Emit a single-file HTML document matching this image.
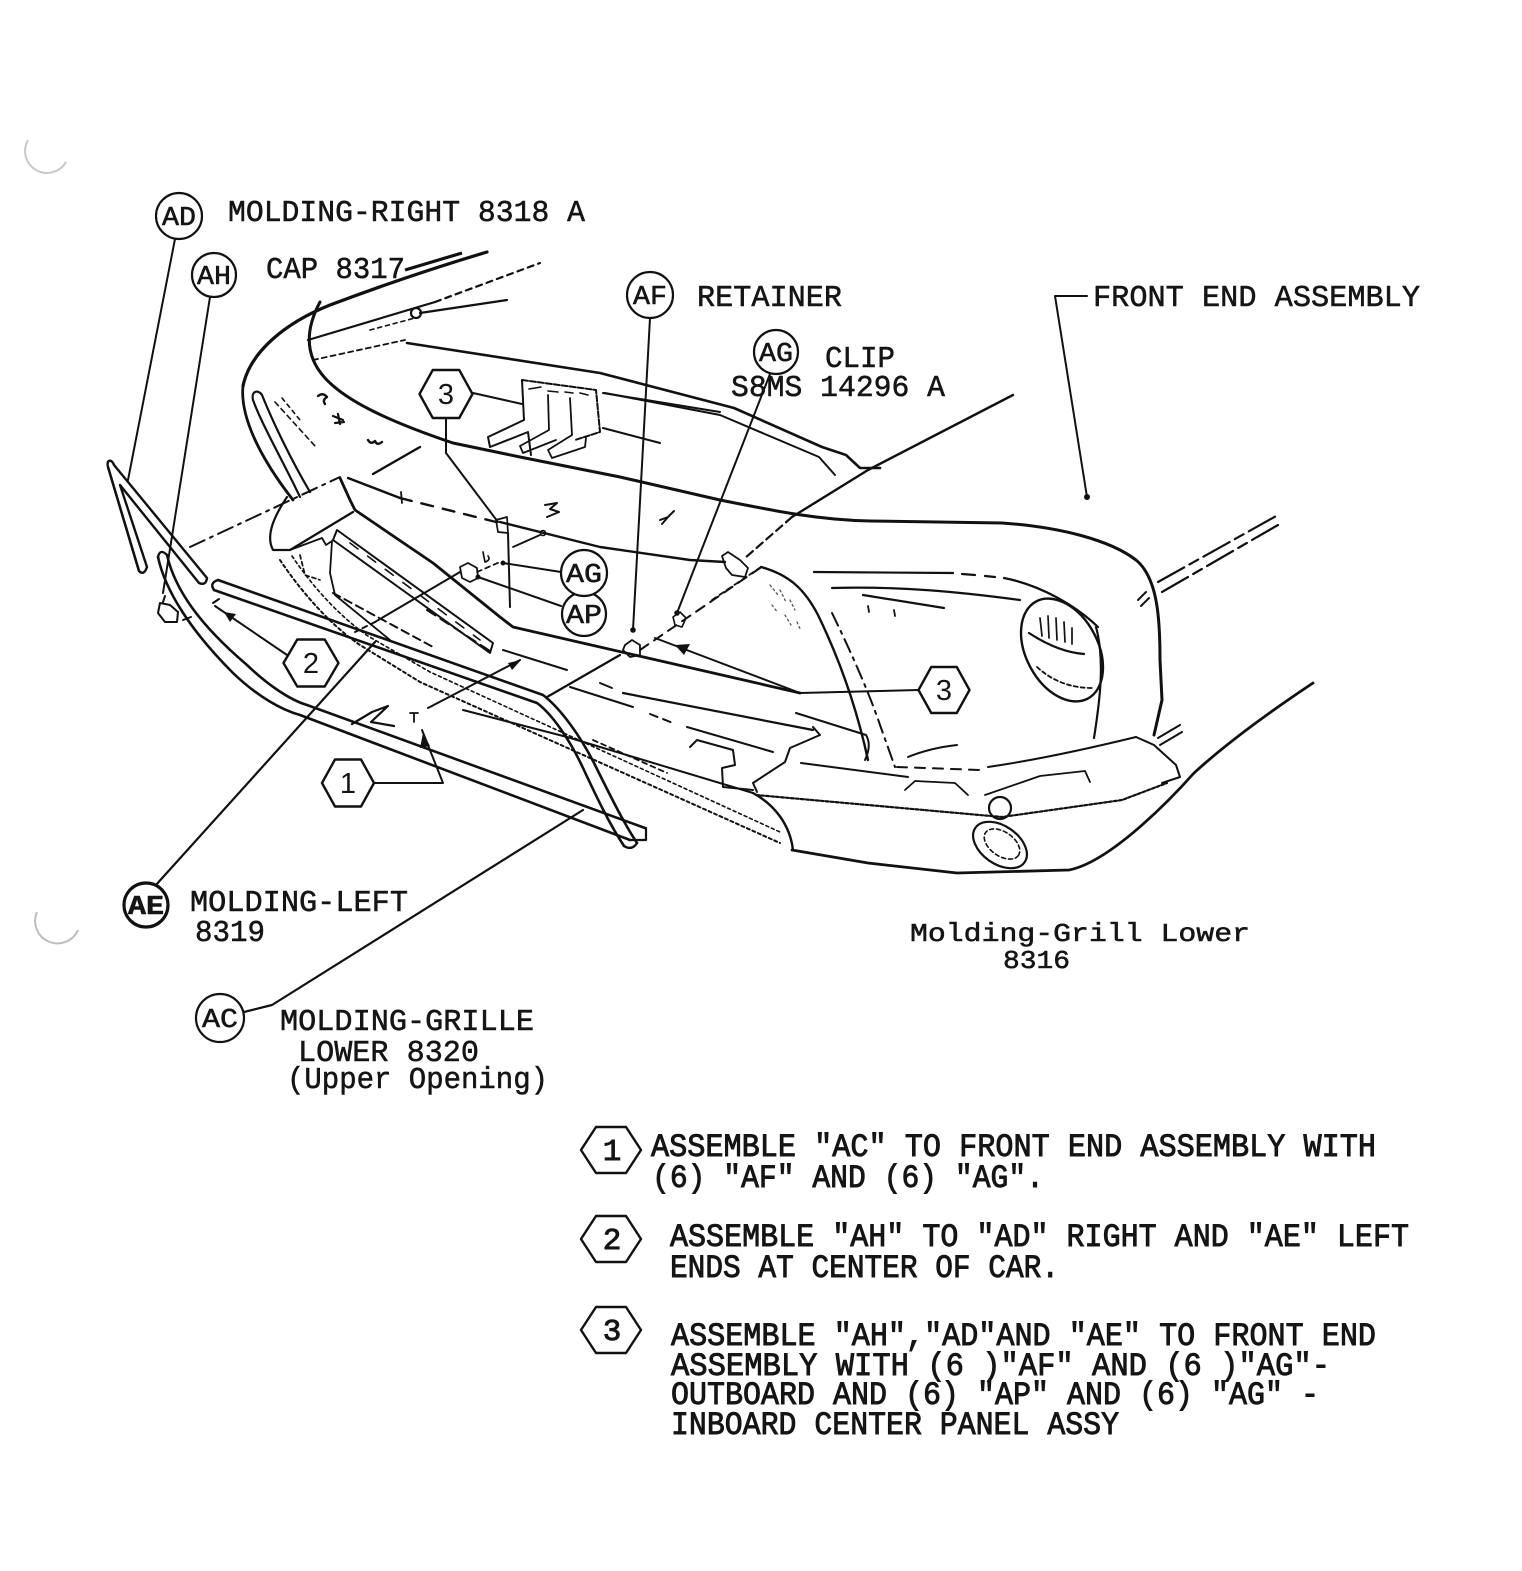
<!DOCTYPE html>
<html><head><meta charset="utf-8"><style>
html,body{margin:0;padding:0;background:#fff;}
svg{display:block;}
.t{font-family:"Liberation Mono","DejaVu Sans Mono",monospace;fill:#151515;stroke:#151515;stroke-width:0.55;}
.b{stroke-width:0.9;}
.s{font-family:"Liberation Sans",sans-serif;fill:#151515;}
</style></head><body>
<svg width="1522" height="1571" viewBox="0 0 1522 1571" xmlns="http://www.w3.org/2000/svg">
<rect width="1522" height="1571" fill="#fff"/>
<!-- binder holes -->
<path d="M28,140 A21,21 0 0 0 66,162" fill="none" stroke="#c8c8c8" stroke-width="2"/>
<path d="M37,912 A22,22 0 0 0 78,930" fill="none" stroke="#bdbdbd" stroke-width="2"/>

<g fill="none" stroke="#111" stroke-width="2.2" stroke-linecap="round" stroke-linejoin="round">
<!-- HOOD -->
<path d="M243,386 C250,352 285,323 330,305 C370,290 420,272 487,252" stroke-width="3.2"/>
<path d="M243,386 C240,415 258,455 293,500" stroke-width="2.8"/>
<path d="M308,340 L435,302"/>
<path d="M435,302 L540,263" stroke-dasharray="6 5"/>
<path d="M420,313 L507,300"/>
<circle cx="416" cy="313" r="5"/>
<path d="M370,330 L415,318" stroke-dasharray="4 4" stroke-width="1.6"/>
<path d="M407,343 L600,373 L734,408 L822,447 L846,455 L860,468 L880,468" stroke-width="2.6"/>
<path d="M313,360 L405,340" stroke-dasharray="5 4" stroke-width="1.8"/>
<path d="M605,393 L720,415 L819,457 L835,475" stroke-width="2"/>
<path d="M603,428 L660,443" stroke-width="2"/>
<path d="M320,302 C305,330 305,356 325,378 C345,400 385,420 453,443 L520,457 L620,477 L720,500 C780,512 820,520 870,521 L1002,523 C1060,527 1110,540 1136,560 C1158,578 1160,620 1160,660 L1162,700 L1154,735" stroke-width="3"/>
<!-- left oval -->
<path d="M300,497 C285,465 262,425 253,400 C251,391 258,389 262,395 C272,420 290,458 310,492" stroke-width="2.2"/>
<path d="M275,402 L315,446" stroke-dasharray="5 4" stroke-width="1.6"/>
<path d="M282,398 L300,420" stroke-dasharray="4 4" stroke-width="1.6"/>
<!-- marks on hood -->
<path d="M318,396 q5,-4 9,1 q-5,3 -2,7" stroke-width="2.4"/>
<path d="M333,416 l10,4 M335,423 l9,-1 M338,414 l2,10" stroke-width="2.2"/>
<path d="M368,440 q3,5 7,1 q2,5 7,1" stroke-width="2.4"/>
<path d="M545,505 l12,-2 l-7,6 l9,3 l-12,5" stroke-width="2"/>
<path d="M660,520 l8,-3 l6,-6 M668,517 l-6,7" stroke-width="2"/>
<path d="M373,474 L420,447" stroke-width="2.4"/>
<!-- hood front lower line -->
<path d="M348,478 L400,498" stroke-width="2.4"/>
<path d="M400,498 L500,523" stroke-dasharray="12 10" stroke-width="2.4"/>
<path d="M401,492 L402,503" stroke-width="1.8"/>
<path d="M500,522 L600,547 L690,560 L725,562" stroke-width="2.4"/>
<path d="M722,556 L728,552 L740,560 L748,568 L745,577 L732,575 L726,568 Z" stroke-width="1.8"/>
<!-- diagonal F -->
<path d="M1013,395 L868,470 L792,517" stroke-width="2.4"/>
<path d="M792,517 L745,558" stroke-dasharray="8 5" stroke-width="2.2"/>
<!-- bracket (retainer) -->
<path d="M522,380 L596,390 L600,432 L575,440" stroke-dasharray="6 2" stroke-width="2"/>
<path d="M522,380 L524,420 L488,437 L490,447 L528,432 L531,455" stroke-width="2"/>
<path d="M548,395 L549,430 L520,446 L523,453 L556,440" stroke-width="1.8"/>
<path d="M570,398 L572,435 L548,450 L552,458 L585,447 L586,438" stroke-width="1.8"/>
<path d="M529,389 l12,-2 M548,391 l10,1 M565,392 l8,1 M580,393 l8,2" stroke-width="1.6"/>
<path d="M603,393 L720,412" stroke-width="2"/>
<!-- hex3 top leader -->
<path d="M473,393 L522,404" stroke-width="2"/>
<path d="M446,418 L446,453 L498,522" stroke-width="2"/>
<path d="M496,520 L507,517 L508,533 L498,532 Z" stroke-width="1.7"/>
<path d="M508,533 L510,607" stroke-width="2"/>
<path d="M513,547 L540,535" stroke-width="1.8"/>
<circle cx="543" cy="533" r="2.5" stroke-width="1.6"/>
<!-- left clip AG/AP -->
<path d="M460,567 L468,563 L477,568 L478,578 L470,582 L462,578 Z" stroke-width="1.8"/>
<path d="M483,552 l2,10 q6,-2 3,-6" stroke-width="1.7"/>
<path d="M460,572 L375,622" stroke-width="2"/>
<path d="M375,622 L355,632" stroke-dasharray="5 4" stroke-width="2"/>
<path d="M477,572 L500,562" stroke-dasharray="5 4" stroke-width="1.7"/>

<!-- LEFT MOLDINGS -->
<path d="M108,467 C106,459 112,459 114,465 L207,578 Q206,586 199,583 L120,485 L147,567 Q144,576 139,571 Z" stroke-width="2.4"/>
<path d="M108,467 L139,571" stroke-width="2.4"/>
<path d="M158,557 C165,590 190,630 233,673 C258,697 282,710 300,715 L630,840" stroke-width="2.6"/>
<path d="M167,555 C175,590 200,625 247,665 C268,685 290,700 307,705 L645,828" stroke-width="2.6"/>
<path d="M158,557 Q160,548 167,555" stroke-width="2.4"/>
<path d="M630,840 L646,840 L646,828" stroke-width="2.2"/>
<path d="M218,580 L543,695 C560,708 580,735 595,765 C610,795 622,820 637,843" stroke-width="2.6"/>
<path d="M214,590 L537,703 C552,714 570,740 583,768 C597,798 610,825 624,846" stroke-width="2.6"/>
<path d="M218,580 Q209,583 214,590 M637,843 Q632,851 624,846" stroke-width="2.4"/>
<path d="M160,603 L158,613 L165,622 L177,622 L178,612 L170,605 Z M163,602 L165,596" stroke-width="2"/>
<path d="M183,620 L191,617" stroke-width="2"/>
<path d="M190,547 L340,477" stroke-dasharray="16 6 3 6" stroke-width="2"/>

<!-- GRILLE -->
<path d="M340,478 L350,500 L355,510 L433,563 L500,617 L513,627 L800,693" stroke-width="2.8"/>
<path d="M287,497 C275,515 265,535 273,550 L290,550 L353,512" stroke-width="2.2"/>
<path d="M290,550 L322,538 L326,545 L332,541 L330,573 L335,595 L390,640" stroke-width="1.8"/>
<path d="M300,555 L305,575 L320,580" stroke-dasharray="4 3" stroke-width="1.7"/>
<path d="M337,530 L493,643 L490,653 L333,540 Z" stroke-width="2"/>
<path d="M350,543 L480,640" stroke-dasharray="10 12" stroke-width="1.6"/>
<path d="M333,593 L433,647" stroke-dasharray="8 5" stroke-width="2"/>
<path d="M280,560 C300,590 330,625 360,645 L420,682 L780,843" stroke-dasharray="3 3" stroke-width="2"/>
<path d="M292,556 C312,586 340,617 368,636 L430,672 L780,832" stroke-dasharray="3 3" stroke-width="1.6"/>
<path d="M463,710 L567,737 L753,793" stroke-width="2"/>
<path d="M427,610 L493,653" stroke-dasharray="10 6" stroke-width="2"/>
<path d="M503,650 L567,670" stroke-width="2"/>
<path d="M570,687 L633,707" stroke-width="2"/>
<path d="M650,714 L673,723" stroke-dasharray="8 6" stroke-width="2"/>
<path d="M600,683 L612,688" stroke-width="2"/>
<path d="M623,693 L813,730" stroke-width="2.2"/>
<path d="M687,727 L773,752" stroke-width="2"/>
<path d="M593,740 L667,773" stroke-dasharray="5 4" stroke-width="1.8"/>
<path d="M690,747 L697,740 L733,750 L735,765 L722,768 L723,787 L753,790" stroke-width="2"/>
<path d="M813,727 L820,735 L790,748 L785,762 L753,783 L757,792" stroke-width="2"/>
<path d="M753,793 C775,805 790,825 793,850" stroke-width="2.4"/>
<path d="M547,697 L620,655" stroke-width="2.2"/>
<path d="M625,645 L632,640 L640,645 L640,655 L630,657 L623,650 Z" stroke-width="1.8"/>
<path d="M673,617 L680,612 L686,618 L682,627 L675,625 Z" stroke-width="1.6"/>
<path d="M640,650 L760,568" stroke-dasharray="10 7" stroke-width="2"/>
<path d="M761,567 C790,575 805,590 818,615 C835,650 855,700 868,760" stroke-width="2.4"/>
<path d="M832,613 C850,650 868,690 880,725 L895,767" stroke-dasharray="14 6 3 6" stroke-width="2"/>
<path d="M761,567 L712,600" stroke-dasharray="5 4" stroke-width="1.8"/>
<path d="M770,585 l8,10 M780,590 l6,12 M790,600 l5,10 M772,605 l6,8 M785,615 l6,10 M797,622 l4,9" stroke="#555" stroke-width="1.3" stroke-dasharray="2 3"/>
<path d="M796,713 L866,735 Q872,745 865,760" stroke-width="2"/>
<path d="M801,763 L908,777" stroke-width="2"/>
<path d="M908,757 Q930,748 957,745" stroke-width="2"/>
<path d="M897,767 L980,770" stroke-dasharray="10 8" stroke-width="2"/>
<!-- bumper -->
<path d="M988,767 Q1050,758 1136,737" stroke-width="2"/>
<path d="M1136,737 L1154,745 L1176,765 L1180,777 L1162,783" stroke-width="2"/>
<path d="M756,795 L1002,817 L1122,800 L1167,783" stroke-dasharray="3 2" stroke-width="2.2"/>
<path d="M905,790 L915,781 L955,783 L968,795" stroke-width="1.8"/>
<path d="M985,795 L1040,776 L1085,771 L1090,782" stroke-width="1.8"/>
<circle cx="1000" cy="808" r="11" stroke-width="2.2"/>
<ellipse cx="1000" cy="845" rx="30" ry="19" transform="rotate(35 1000 845)" stroke-width="2.2"/>
<ellipse cx="1002" cy="844" rx="20" ry="12" transform="rotate(35 1002 844)" stroke-width="1.6" stroke-dasharray="4 3"/>
<!-- body bottom -->
<path d="M792,850 L868,863 L957,873 L1069,870 C1110,862 1170,800 1194,773 C1230,740 1280,705 1313,683" stroke-width="2.8"/>
<!-- fender lines -->
<path d="M814,572 L953,573" stroke-width="2.2"/>
<path d="M962,574 L975,575 M985,576 L995,577" stroke-width="2.2"/>
<path d="M1004,578 C1040,585 1075,605 1098,627" stroke-width="2.2"/>
<path d="M832,588 C900,586 960,592 1020,600" stroke-width="2.2"/>
<path d="M863,595 L944,608" stroke-width="2.2"/>
<path d="M1096,627 C1105,660 1100,700 1094,738" stroke-width="2.2"/>
<path d="M868,606 l1,6 M894,610 l1,6" stroke-width="1.8"/>
<!-- headlamp -->
<ellipse cx="1062" cy="650" rx="36" ry="55" transform="rotate(-28 1062 650)" stroke-width="2.4"/>
<path d="M1029,633 Q1058,652 1084,654" stroke-width="2.2"/>
<path d="M1040,618 l2,18 M1048,616 l1,22 M1056,618 l1,22 M1064,622 l1,20 M1072,628 l0,16" stroke-width="1.7"/>
<path d="M1037,667 Q1060,688 1092,688" stroke-dasharray="4 3" stroke-width="1.8"/>
<!-- right rear -->
<path d="M1158,582 L1278,515" stroke-dasharray="30 6 10 6" stroke-width="2.2"/>
<path d="M1162,592 L1278,525" stroke-dasharray="30 6 10 6" stroke-width="2.2"/>
<path d="M1138,600 L1146,592 M1141,606 L1149,598" stroke-width="2"/>
<path d="M1158,738 L1180,725 M1160,745 L1182,732" stroke-width="2"/>

<!-- LEADERS -->
<path d="M175,239 L128,480" stroke-width="2"/>
<path d="M210,297 L163,593" stroke-width="2"/>
<path d="M650,318 L633,630" stroke-width="2"/>
<path d="M770,374 L677,613" stroke-width="2"/>
<path d="M561,572 L503,563" stroke-width="2"/>
<path d="M561,606 L478,577" stroke-width="2"/>
<path d="M155,886 L375,642" stroke-width="2.2"/>
<path d="M244,1012 L272,1005 L583,810" stroke-width="2.2"/>
<path d="M1087,296 L1055,296 L1087,497" stroke-width="2"/>
<path d="M919,690 L800,693 L655,638" stroke-width="2"/>
<path d="M287,655 L215,606 M213,603 L219,599" stroke-width="2"/>
<path d="M374,783 L443,783 L422,730" stroke-width="2"/>
<path d="M428,708 L520,660" stroke-width="2"/>
<path d="M352,724 L372,712 L388,706 L371,722 L394,726" stroke-width="2.2"/>
<path d="M410,713 L418,713 M414,713 L414,722" stroke-width="1.8"/>
</g>
<g fill="#111">
<circle cx="633" cy="630" r="2.8"/>
<circle cx="677" cy="613" r="2.8"/>
<circle cx="503" cy="563" r="2.5"/>
<circle cx="478" cy="577" r="2.5"/>
<circle cx="1087" cy="497" r="3"/>
<polygon points="675,645 690,644 684,655"/>
<polygon points="224,612 236,614 230,622"/>
<polygon points="423,733 420,748 430,746"/>
<polygon points="521,660 508,663 512,670"/>
</g>

<!-- HEXAGONS -->
<g fill="#fff" stroke="#111" stroke-width="2.4" stroke-linejoin="round">
<polygon points="419.5,394 432.75,370 459.25,370 472.5,394 459.25,418 432.75,418"/>
<polygon points="283.5,663 297.25,639.5 324.75,639.5 338.5,663 324.75,686.5 297.25,686.5"/>
<polygon points="322,783 335,759.5 361,759.5 374,783 361,806.5 335,806.5"/>
<polygon points="918.5,690 931.25,667 956.75,667 969.5,690 956.75,713 931.25,713"/>
<polygon points="581,1150 596,1127 626,1127 641,1150 626,1173 596,1173"/>
<polygon points="581,1239 596,1216 626,1216 641,1239 626,1262 596,1262"/>
<polygon points="581,1330 596,1307 626,1307 641,1330 626,1353 596,1353"/>
</g>
<g class="s" font-size="29" text-anchor="middle">
<text x="446" y="404">3</text>
<text x="311" y="673">2</text>
<text x="348" y="793">1</text>
<text x="944" y="700">3</text>
</g>
<g class="t b" font-size="31" text-anchor="middle">
<text x="612" y="1160">1</text>
<text x="612" y="1249">2</text>
<text x="612" y="1340">3</text>
</g>

<!-- CIRCLES -->
<g fill="#fff" stroke="#111" stroke-width="2.2">
<circle cx="179" cy="216" r="23"/>
<circle cx="214" cy="275" r="22"/>
<circle cx="650" cy="295" r="23"/>
<circle cx="776" cy="352" r="22"/>
<circle cx="584" cy="614" r="22"/>
<circle cx="584" cy="573" r="23"/>
<circle cx="146" cy="905" r="22" stroke-width="3.2"/>
<circle cx="220" cy="1018" r="24"/>
</g>
<g class="t" font-size="27" text-anchor="middle">
<text x="179" y="225" textLength="34" lengthAdjust="spacingAndGlyphs">AD</text>
<text x="214" y="284" textLength="34" lengthAdjust="spacingAndGlyphs">AH</text>
<text x="650" y="304" textLength="34" lengthAdjust="spacingAndGlyphs">AF</text>
<text x="776" y="361" textLength="34" lengthAdjust="spacingAndGlyphs">AG</text>
<text x="584" y="582" textLength="36" lengthAdjust="spacingAndGlyphs">AG</text>
<text x="584" y="623" textLength="36" lengthAdjust="spacingAndGlyphs">AP</text>
<text x="146" y="914" textLength="36" lengthAdjust="spacingAndGlyphs" font-weight="bold">AE</text>
<text x="220" y="1027" textLength="36" lengthAdjust="spacingAndGlyphs">AC</text>
</g>

<!-- LABELS -->
<g class="t" font-size="31">
<text x="228" y="221" textLength="357" lengthAdjust="spacingAndGlyphs">MOLDING-RIGHT 8318 A</text>
<text x="266" y="278" textLength="139" lengthAdjust="spacingAndGlyphs">CAP 8317</text>
<text x="697" y="306" textLength="145" lengthAdjust="spacingAndGlyphs">RETAINER</text>
<text x="1093" y="306" textLength="327" lengthAdjust="spacingAndGlyphs">FRONT END ASSEMBLY</text>
<text x="825" y="367" textLength="70" lengthAdjust="spacingAndGlyphs">CLIP</text>
<text x="731" y="396" textLength="214" lengthAdjust="spacingAndGlyphs">S8MS 14296 A</text>
<text x="190" y="911" textLength="218" lengthAdjust="spacingAndGlyphs">MOLDING-LEFT</text>
<text x="195" y="941" textLength="70" lengthAdjust="spacingAndGlyphs">8319</text>
<text x="280" y="1030" textLength="254" lengthAdjust="spacingAndGlyphs">MOLDING-GRILLE</text>
<text x="298" y="1061" textLength="181" lengthAdjust="spacingAndGlyphs">LOWER 8320</text>
<text x="287" y="1088" textLength="261" lengthAdjust="spacingAndGlyphs">(Upper Opening)</text>
</g>
<g class="t" font-size="26">
<text x="910" y="941" textLength="340" lengthAdjust="spacingAndGlyphs">Molding-Grill Lower</text>
<text x="1003" y="968" textLength="67" lengthAdjust="spacingAndGlyphs">8316</text>
</g>
<path d="M405,270 L462,253" stroke="#111" stroke-width="3.2" fill="none"/>

<!-- INSTRUCTIONS -->
<g class="t b" font-size="32">
<text x="651" y="1156" textLength="725" lengthAdjust="spacingAndGlyphs">ASSEMBLE "AC" TO FRONT END ASSEMBLY WITH</text>
<text x="652" y="1187" textLength="392" lengthAdjust="spacingAndGlyphs">(6) "AF" AND (6) "AG".</text>
<text x="670" y="1246" textLength="739" lengthAdjust="spacingAndGlyphs">ASSEMBLE "AH" TO "AD" RIGHT AND "AE" LEFT</text>
<text x="670" y="1277" textLength="389" lengthAdjust="spacingAndGlyphs">ENDS AT CENTER OF CAR.</text>
<text x="671" y="1345" textLength="705" lengthAdjust="spacingAndGlyphs">ASSEMBLE "AH","AD"AND "AE" TO FRONT END</text>
<text x="671" y="1375" textLength="659" lengthAdjust="spacingAndGlyphs">ASSEMBLY WITH (6 )"AF" AND (6 )"AG"-</text>
<text x="671" y="1404" textLength="648" lengthAdjust="spacingAndGlyphs">OUTBOARD AND (6) "AP" AND (6) "AG" -</text>
<text x="671" y="1434" textLength="448" lengthAdjust="spacingAndGlyphs">INBOARD CENTER PANEL ASSY</text>
</g>
</svg>
</body></html>
